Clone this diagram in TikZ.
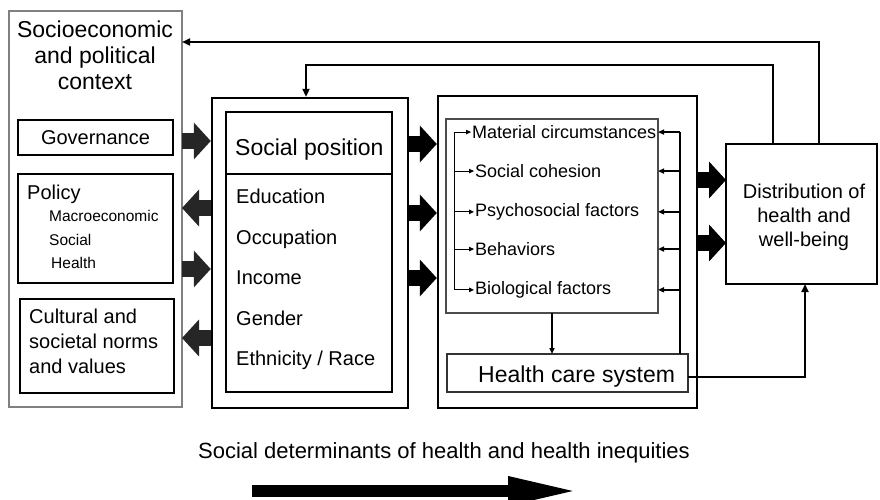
\documentclass[tikz,border=0pt]{standalone}
\usepackage{fontspec}
\setmainfont{Liberation Sans}
\usetikzlibrary{arrows.meta}

\begin{document}
\begin{tikzpicture}[x=1pt, y=-1pt,
		box/.style={draw, line width=1.1pt, inner sep=0pt, outer sep=0pt},
		frame/.style={draw, line width=2.4pt, inner sep=0pt},
		lbl/.style={inner sep=0pt, anchor=base west},
		big/.style={line width=16pt, -{Triangle[length=17pt, width=36pt]}},
		fb/.style={line width=2pt, -{Triangle[length=8pt, width=7pt]}},
		sm/.style={line width=1.2pt, -{Triangle[length=6pt, width=5pt]}}]
		\useasboundingbox (0,0) rectangle (880,500);

		% context column
		\node[box, draw=gray, minimum width=173pt, minimum height=396pt] (ctx) at (95.5,209) {};
		\node[inner sep=0pt, align=center, font=\fontsize{23}{26}\selectfont] (ctxlbl) at (95,55) {Socioeconomic\\and political\\context};
		\node[box, minimum width=155pt, minimum height=35pt, font=\fontsize{20}{24}\selectfont] (gov) at (95.5,137.5) {Governance};
		\node[box, minimum width=155pt, minimum height=109pt] (pol) at (95.5,228.5) {};
		\node[lbl, font=\fontsize{20}{24}\selectfont] (poll) at (27,199) {Policy};
		\node[lbl, font=\fontsize{15.5}{18}\selectfont] (macro) at (49,221) {Macroeconomic};
		\node[lbl, font=\fontsize{15.5}{18}\selectfont] (soc) at (49,245) {Social};
		\node[lbl, font=\fontsize{15.5}{18}\selectfont] (hlth) at (51,268) {Health};
		\node[box, minimum width=154pt, minimum height=94pt] (cult) at (97,346) {};
		\node[inner sep=0pt, anchor=west, align=left, font=\fontsize{20}{25}\selectfont] (cultl) at (29,341) {Cultural and\\societal norms\\and values};

		% social position
		\node[frame, minimum width=196pt, minimum height=310pt] (pos) at (310,253) {};
		\node[box, minimum width=166pt, minimum height=280pt] (posin) at (309,252) {};
		\draw[line width=1.1pt] (posin.west |- 0,174) -- (posin.east |- 0,174);
		\node[lbl, font=\fontsize{23}{27}\selectfont] (posl) at (235,155) {Social position};
		\foreach \t [count=\i, evaluate=\i as \yy using 163+40.5*\i] in {Education, Occupation, Income, Gender, Ethnicity / Race}
			\node[lbl, font=\fontsize{20}{24}\selectfont] (e\i) at (236,\yy) {\t};

		% intermediary determinants
		\node[frame, minimum width=259pt, minimum height=312pt] (circ) at (567.5,252) {};
		\node[box, draw=black!70, minimum width=212pt, minimum height=194pt] (fac) at (552,216) {};
		\foreach \t/\x [count=\i, evaluate=\i as \yy using 99.5+39*\i] in {Material circumstances/472, Social cohesion/475, Psychosocial factors/475, Behaviors/475, Biological factors/475}
			\node[lbl, font=\fontsize{18}{22}\selectfont] (m\i) at (\x,\yy) {\t};
		\node[box, draw=black!80, minimum width=241pt, minimum height=38pt] (hcs) at (567.5,373) {};
		\node[lbl, font=\fontsize{23}{27}\selectfont] (hcsl) at (478,382) {Health care system};
		\coordinate (brk) at (454,0);
		\coordinate (rl) at (680,0);
		\draw[line width=1pt] (brk |- m1.west) -- (brk |- m5.west);
		\foreach \i in {1,...,5}
			\draw[line width=1pt, -{Triangle[length=5pt, width=4.5pt]}, shorten >=1pt] (brk |- m\i.west) -- (m\i.west);
		\draw[line width=1.8pt] (rl |- m1.west) -- (rl |- hcs.north);
		\foreach \i in {1,...,5}
			\draw[sm, line width=1.8pt] (rl |- m\i.west) -- (fac.east |- m\i.west);
		\draw[sm, line width=1.8pt] (fac.south) -- (fac.south |- hcs.north);

		% outcome
		\node[box, line width=1.6pt, minimum width=151pt, minimum height=140pt] (dist) at (801.5,214) {};
		\node[inner sep=0pt, align=center, font=\fontsize{20}{24}\selectfont] (distl) at (804,217) {Distribution of\\health and\\well-being};

		% block arrows
		\draw[big, black!85] (ctx.east |- 0,141) -- (pos.west |- 0,141);
		\draw[big, black!85] (pos.west |- 0,208) -- (ctx.east |- 0,208);
		\draw[big, black!85] (ctx.east |- 0,269) -- (pos.west |- 0,269);
		\draw[big, black!85] (pos.west |- 0,338) -- (ctx.east |- 0,338);
		\draw[big] (pos.east |- 0,144) -- (circ.west |- 0,144);
		\draw[big] (pos.east |- 0,213) -- (circ.west |- 0,213);
		\draw[big] (pos.east |- 0,278) -- (circ.west |- 0,278);
		\draw[big] (circ.east |- 0,180) -- (dist.west |- 0,180);
		\draw[big] (circ.east |- 0,243) -- (dist.west |- 0,243);

		% feedback
		\coordinate (fb) at (306,65);
		\draw[fb] ([xshift=17.5pt]dist.north) |- (ctx.east |- 0,42);
		\draw[fb] ([xshift=-28.5pt]dist.north) |- (fb) -- (fb |- pos.north);
		\draw[fb] (hcs.east |- 0,377) -| ([xshift=3.5pt]dist.south);

		% bottom
		\node[anchor=base, inner sep=0pt, font=\fontsize{22}{26}\selectfont] (sdh) at (444,458) {Social determinants of health and health inequities};
		\coordinate (sdhs) at (252,491);
		\coordinate (sdhe) at (580,491);
		\draw[line width=12pt, -{Triangle[length=72pt, width=26pt]}] (sdhs) -- (sdhe);
	\end{tikzpicture}
\end{document}
